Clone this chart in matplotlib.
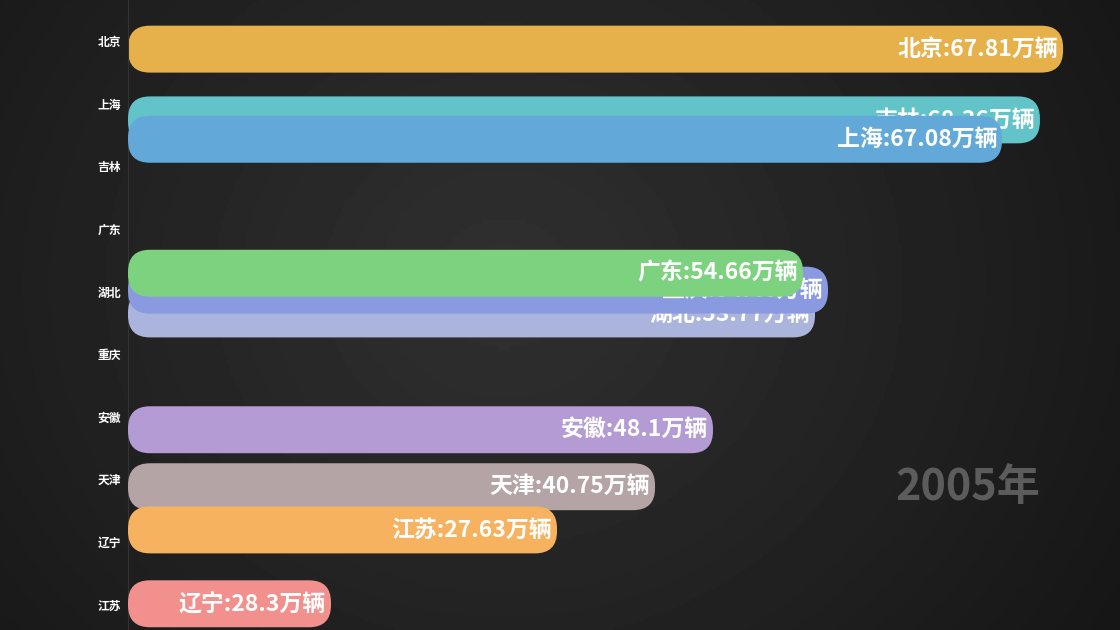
import numpy as np
import matplotlib
matplotlib.use("Agg")
import matplotlib.pyplot as plt
from matplotlib.patches import FancyBboxPatch

plt.rcParams['font.family'] = ['Noto Sans CJK SC', 'DejaVu Sans']

# tick labels (rank order on the y axis)
tick_names = ['北京', '上海', '吉林', '广东', '湖北', '重庆', '安徽', '天津', '辽宁', '江苏']

# bars as they stand in this animation frame (drawing order)
bar_names = ['北京', '吉林', '上海', '湖北', '重庆', '广东', '安徽', '天津', '江苏', '辽宁']
bar_len = [67.81, 66.13, 63.38, 49.82, 50.76, 48.95, 42.42, 38.22, 31.11, 14.72]
bar_pos = [0.13, 1.26, 1.57, 4.36, 3.98, 3.71, 6.21, 7.12, 7.81, 8.99]
label_vals = ['67.81', '68.36', '67.08', '53.77', '54.46', '54.66', '48.1', '40.75', '27.63', '28.3']
colors = ['#e6b04b', '#62c3c9', '#62a9d9', '#aab4dd', '#8a9ae0', '#7dd27f',
          '#b49bd3', '#b4a4a6', '#f7b25f', '#f1908c']
year = '2005年'

W, H = 1120, 630
fig = plt.figure(figsize=(W / 100, H / 100), dpi=100)
fig.patch.set_facecolor('#1a1a1a')

# dark background with a soft radial light
bg = fig.add_axes([0, 0, 1, 1])
yy, xx = np.mgrid[0:1:200j, 0:1:360j]
d = np.sqrt(((xx - 0.45) * 1.6) ** 2 + (yy - 0.45) ** 2)
shade = 0.19 - 0.10 * d
bg.imshow(shade, cmap='gray', vmin=0, vmax=1, aspect='auto', extent=[0, 1, 0, 1])
bg.axis('off')

x0 = 128
px_per_unit = 13.79
row_px = 62.6
ax = fig.add_axes([x0 / W, 0, (W - x0) / W, 1])
ax.set_facecolor('none')
ax.set_xlim(0, (W - x0) / px_per_unit)
ax.set_ylim((H - 41) / row_px, -41 / row_px)

bar_h = 0.75
r_px = 22
ux = 1 / px_per_unit
uy = 1 / row_px
for i, name in enumerate(bar_names):
    p = FancyBboxPatch((0, bar_pos[i] - bar_h / 2), bar_len[i], bar_h,
                       boxstyle=f"round,pad=0,rounding_size={r_px * ux}",
                       mutation_aspect=uy / ux, fc=colors[i], ec='none', zorder=2 + i)
    ax.add_patch(p)
    ax.text(bar_len[i] - 5 * ux, bar_pos[i], f'{name}:{label_vals[i]}万辆',
            ha='right', va='center', color='white', fontsize=16.5, fontweight='bold',
            zorder=2 + i)

ax.set_yticks(range(len(tick_names)))
ax.set_yticklabels(tick_names, color='white', fontsize=8.5, fontweight='bold')
ax.tick_params(axis='y', length=0, pad=5)
ax.set_xticks([])
for s in ['top', 'right', 'bottom']:
    ax.spines[s].set_visible(False)
ax.spines['left'].set_color('#333333')

fig.text(968 / W, 1 - 487 / H, year, ha='center', va='center', color='#5c5c5c',
         fontsize=31, fontweight='bold')

fig.savefig('out.png', dpi=100, facecolor=fig.get_facecolor())
